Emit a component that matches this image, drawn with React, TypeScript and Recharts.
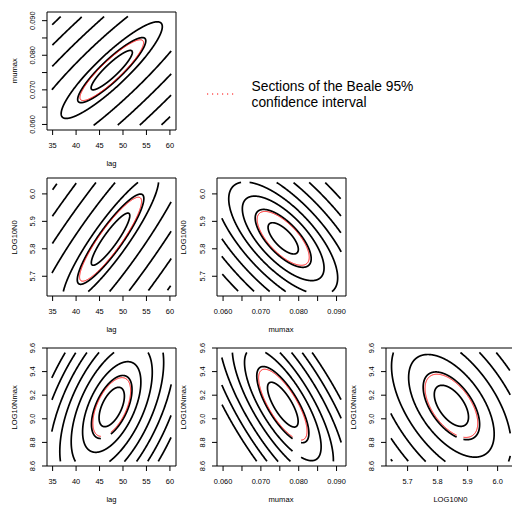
import React from 'react'
import { LineChart, Line, XAxis, YAxis, ReferenceArea } from 'recharts'

// range of each parameter on the profiling grid (axes pad it by 4%, as R does)
const lagRange = [34.82, 60.28]
const mumaxRange = [0.05966, 0.09124]
const n0Range = [5.644, 6.042]
const nmaxRange = [8.637, 9.563]

const lagTicks = [35, 40, 45, 50, 55, 60]
const lagLabels = ['35', '40', '45', '50', '55', '60']
const mumaxTicks = [0.06, 0.065, 0.07, 0.075, 0.08, 0.085, 0.09]
const mumaxLabels = ['0.060', '', '0.070', '', '0.080', '', '0.090']
const n0Ticks = [5.7, 5.8, 5.9, 6.0]
const n0Labels = ['5.7', '5.8', '5.9', '6.0']
const nmaxTicks = [8.6, 8.8, 9.0, 9.2, 9.4, 9.6]
const nmaxLabels = ['8.6', '8.8', '9.0', '9.2', '9.4', '9.6']

// SSR surface sections: centre, half-width of the innermost contour, correlation
const lagMumax = { center: [47.6, 0.0757], spread: [4.4, 0.0057], rho: 0.9 }
const lagN0 = { center: [47.35, 5.835], spread: [4.1, 0.095], rho: 0.9 }
const mumaxN0 = { center: [0.0759, 5.838], spread: [0.004, 0.057], rho: -0.7 }
const lagNmax = { center: [47.6, 9.1], spread: [2.7, 0.167], rho: 0.55 }
const mumaxNmax = { center: [0.0758, 9.12], spread: [0.00405, 0.19], rho: -0.75 }
const n0Nmax = { center: [5.846, 9.11], spread: [0.057, 0.174], rho: -0.55 }

// contour levels (relative size of each contour)
const lagMumaxLevels = [1, 1.65, 2.45, 4.7, 7.0, 9.3, 11.6, 13.9]
const lagN0Levels = [1, 1.73, 2.5, 4.5, 6.6, 8.8, 11, 13.2]
const mumaxN0Levels = [1, 1.85, 2.7, 3.6, 4.6, 5.7, 6.9, 8.2, 9.6]
const lagNmaxLevels = [1, 1.6, 2.3, 3.2, 4.1, 5.0, 5.9, 6.8]
const mumaxNmaxLevels = [1, 1.7, 2.5, 3.3, 4.2, 5.1, 6.0]
const n0NmaxLevels = [1, 1.65, 2.5, 3.5, 4.5, 5.5, 6.5]

// Beale 95% region level for each section
const bealeLevels = [1.54, 1.61, 1.72, 1.49, 1.58, 1.54]

// grid cells where the SSR could not be computed: [x1, x2, y1, y2]
const lagNmaxHoles = [[45.3, 47.4, 8.78, 8.92]]
const mumaxNmaxHoles = [[0.0784, 0.0806, 8.6, 8.88]]
const n0NmaxHoles = [[5.864, 5.886, 8.78, 8.9]]

const FONT = '"Liberation Sans", Arial, Helvetica, sans-serif'
const BOX_W = 129
const BOX_H = 118
const TOP = 10
const cols = [47, 216.5, 386]
const rows = [11.7, 178.3, 348.3]

type Surface = { center: number[]; spread: number[]; rho: number }
type Pt = { x: number; y: number }

function pad(r: number[]) {
  const d = (r[1] - r[0]) * 0.04
  return [r[0] - d, r[1] + d]
}

function contour(s: Surface, level: number, xr: number[], yr: number[], holes: number[][]) {
  const n = 1200
  const q = Math.sqrt(1 - s.rho * s.rho)
  const ok = (p: Pt) =>
    p.x >= xr[0] && p.x <= xr[1] && p.y >= yr[0] && p.y <= yr[1] &&
    !holes.some(h => p.x >= h[0] && p.x <= h[1] && p.y >= h[2] && p.y <= h[3])
  const segs: Pt[][] = []
  let cur: Pt[] = []
  let firstOpen = false
  for (let i = 0; i <= n; i++) {
    const t = (2 * Math.PI * i) / n
    const u = level * Math.cos(t)
    const v = level * (s.rho * Math.cos(t) + q * Math.sin(t))
    const p = { x: s.center[0] + s.spread[0] * u, y: s.center[1] + s.spread[1] * v }
    if (ok(p)) {
      if (i === 0) firstOpen = true
      cur.push(p)
    } else if (cur.length) {
      segs.push(cur)
      cur = []
    }
  }
  if (cur.length) {
    // wraps round through t = 0
    if (firstOpen && segs.length) segs[0] = cur.concat(segs[0])
    else segs.push(cur)
  }
  return segs.filter(g => g.length > 1)
}

const XTick = (props: any) => {
  const { x, y, index, labels } = props
  return (
    <text x={x} y={y + 11} textAnchor="middle" fontSize={7.4} fontFamily={FONT} fill="#000">
      {labels[index]}
    </text>
  )
}

const YTick = (props: any) => {
  const { x, y, index, labels } = props
  const bx = x - 5.4
  return (
    <text x={bx} y={y} transform={`rotate(-90, ${bx}, ${y})`} textAnchor="middle" fontSize={7.4} fontFamily={FONT} fill="#000">
      {labels[index]}
    </text>
  )
}

type PanelProps = {
  col: number
  row: number
  xr: number[]
  yr: number[]
  xTicks: number[]
  xLabels: string[]
  yTicks: number[]
  yLabels: string[]
  surface: Surface
  levels: number[]
  beale: number
  holes?: number[][]
}

function Panel(p: PanelProps) {
  const xd = pad(p.xr)
  const yd = pad(p.yr)
  const holes = p.holes || []
  const black = p.levels.flatMap(l => contour(p.surface, l, p.xr, p.yr, holes))
  const red = contour(p.surface, p.beale, p.xr, p.yr, holes)
  return (
    <div style={{ position: 'absolute', left: cols[p.col] - 40, top: rows[p.row] - TOP }}>
      <LineChart width={BOX_W + 46} height={BOX_H + TOP + 24} margin={{ top: TOP, right: 6, left: 0, bottom: 0 }}>
        <XAxis
          type="number"
          dataKey="x"
          domain={xd}
          ticks={p.xTicks}
          interval={0}
          allowDataOverflow
          height={24}
          tickSize={5}
          axisLine={false}
          stroke="#000"
          tick={<XTick labels={p.xLabels} />}
        />
        <YAxis
          type="number"
          dataKey="y"
          domain={yd}
          ticks={p.yTicks}
          interval={0}
          allowDataOverflow
          width={40}
          tickSize={5}
          axisLine={false}
          stroke="#000"
          tick={<YTick labels={p.yLabels} />}
        />
        <ReferenceArea x1={xd[0]} x2={xd[1]} y1={yd[0]} y2={yd[1]} fill="none" stroke="#000" strokeWidth={1} ifOverflow="visible" />
        {black.map((seg, i) => (
          <Line key={'b' + i} data={seg} dataKey="y" stroke="#000" strokeWidth={1.7} dot={false} isAnimationActive={false} />
        ))}
        {red.map((seg, i) => (
          <Line key={'r' + i} data={seg} dataKey="y" stroke="#ff0000" strokeWidth={1} dot={false} isAnimationActive={false} />
        ))}
      </LineChart>
    </div>
  )
}

const titles = [
  { col: 0, row: 0, x: 'lag', y: 'mumax' },
  { col: 0, row: 1, x: 'lag', y: 'LOG10N0' },
  { col: 1, row: 1, x: 'mumax', y: 'LOG10N0' },
  { col: 0, row: 2, x: 'lag', y: 'LOG10Nmax' },
  { col: 1, row: 2, x: 'mumax', y: 'LOG10Nmax' },
  { col: 2, row: 2, x: 'LOG10N0', y: 'LOG10Nmax' },
]

export default function App() {
  return (
    <div style={{ position: 'absolute', left: 0, top: 0, width: 512, height: 505, overflow: 'hidden', background: '#fff' }}>
      <Panel col={0} row={0} xr={lagRange} yr={mumaxRange} xTicks={lagTicks} xLabels={lagLabels} yTicks={mumaxTicks} yLabels={mumaxLabels} surface={lagMumax} levels={lagMumaxLevels} beale={bealeLevels[0]} />
      <Panel col={0} row={1} xr={lagRange} yr={n0Range} xTicks={lagTicks} xLabels={lagLabels} yTicks={n0Ticks} yLabels={n0Labels} surface={lagN0} levels={lagN0Levels} beale={bealeLevels[1]} />
      <Panel col={1} row={1} xr={mumaxRange} yr={n0Range} xTicks={mumaxTicks} xLabels={mumaxLabels} yTicks={n0Ticks} yLabels={n0Labels} surface={mumaxN0} levels={mumaxN0Levels} beale={bealeLevels[2]} />
      <Panel col={0} row={2} xr={lagRange} yr={nmaxRange} xTicks={lagTicks} xLabels={lagLabels} yTicks={nmaxTicks} yLabels={nmaxLabels} surface={lagNmax} levels={lagNmaxLevels} beale={bealeLevels[3]} holes={lagNmaxHoles} />
      <Panel col={1} row={2} xr={mumaxRange} yr={nmaxRange} xTicks={mumaxTicks} xLabels={mumaxLabels} yTicks={nmaxTicks} yLabels={nmaxLabels} surface={mumaxNmax} levels={mumaxNmaxLevels} beale={bealeLevels[4]} holes={mumaxNmaxHoles} />
      <Panel col={2} row={2} xr={n0Range} yr={nmaxRange} xTicks={n0Ticks} xLabels={n0Labels} yTicks={nmaxTicks} yLabels={nmaxLabels} surface={n0Nmax} levels={n0NmaxLevels} beale={bealeLevels[5]} holes={n0NmaxHoles} />
      <svg width={512} height={505} style={{ position: 'absolute', left: 0, top: 0, pointerEvents: 'none' }}>
        {titles.map((t, i) => {
          const cx = cols[t.col] + BOX_W / 2
          const bottom = rows[t.row] + BOX_H
          const ty = rows[t.row] + BOX_H / 2
          const tx = cols[t.col] - 30
          return (
            <g key={i} fontFamily={FONT} fontSize={7.6} fill="#000">
              <text x={cx} y={bottom + 36} textAnchor="middle">{t.x}</text>
              <text x={tx} y={ty} textAnchor="middle" transform={`rotate(-90, ${tx}, ${ty})`}>{t.y}</text>
            </g>
          )
        })}
        <line x1={207} x2={234} y1={94} y2={94} stroke="#ff0000" strokeWidth={1} strokeDasharray="1.2 3.8" />
        <text x={251.5} y={91.3} fontFamily={FONT} fontSize={13.8} fill="#000">Sections of the Beale 95%</text>
        <text x={251.5} y={107.3} fontFamily={FONT} fontSize={13.8} fill="#000">confidence interval</text>
      </svg>
    </div>
  )
}
